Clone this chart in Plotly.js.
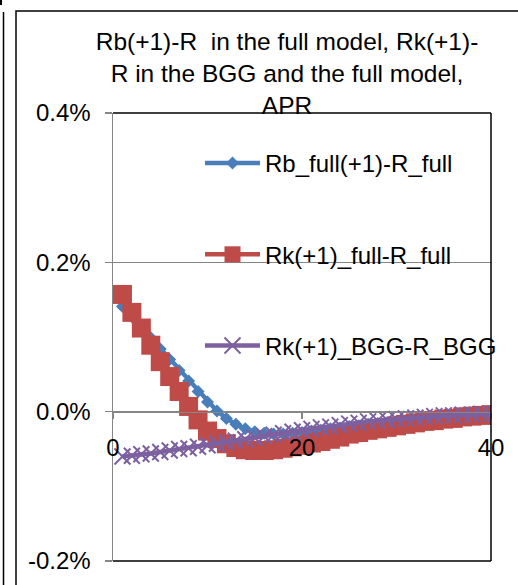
<!DOCTYPE html>
<html>
<head>
<meta charset="utf-8">
<script src="https://cdn.plot.ly/plotly-3.0.1.min.js"></script>
<style>html,body{margin:0;padding:0;background:#fff;}#chart{width:518px;height:585px;}</style>
</head>
<body>
<div id="chart"></div>
<script>
// Horizon (quarters)
var periods = [1,2,3,4,5,6,7,8,9,10,11,12,13,14,15,16,17,18,19,20,21,22,23,24,25,26,27,28,29,30,31,32,33,34,35,36,37,38,39,40];

// Values in percent
var rbFull = [0.141,0.127,0.113,0.099,0.084,0.070,0.055,0.041,0.027,0.013,
              0.001,-0.009,-0.017,-0.023,-0.027,-0.029,-0.030,-0.030,-0.029,-0.028,
              -0.026,-0.025,-0.023,-0.022,-0.020,-0.019,-0.017,-0.016,-0.015,-0.013,
              -0.012,-0.011,-0.010,-0.009,-0.008,-0.007,-0.006,-0.005,-0.005,-0.004];

var rkFull = [0.157,0.133,0.112,0.089,0.067,0.047,0.027,0.007,-0.011,-0.026,
              -0.036,-0.043,-0.048,-0.051,-0.052,-0.052,-0.051,-0.049,-0.047,-0.045,
              -0.042,-0.040,-0.037,-0.034,-0.030,-0.028,-0.025,-0.023,-0.021,-0.019,
              -0.017,-0.015,-0.013,-0.012,-0.010,-0.009,-0.007,-0.006,-0.005,-0.004];

var rkBGG = [-0.060,-0.059,-0.057,-0.056,-0.054,-0.052,-0.050,-0.049,-0.047,-0.045,
             -0.043,-0.041,-0.039,-0.037,-0.035,-0.033,-0.031,-0.029,-0.027,-0.025,
             -0.023,-0.021,-0.020,-0.018,-0.016,-0.015,-0.013,-0.012,-0.011,-0.010,
             -0.009,-0.008,-0.007,-0.006,-0.005,-0.005,-0.004,-0.004,-0.003,-0.003];

var seriesNames = ['Rb_full(+1)-R_full', 'Rk(+1)_full-R_full', 'Rk(+1)_BGG-R_BGG'];
var titleLines = ['Rb(+1)-R\u00a0 in the full model, Rk(+1)-', 'R in the BGG and the full model,', 'APR'];

var xTickVals = [0, 20, 40];
var xTickText = ['0', '20', '40'];
var yTickVals = [-0.2, 0, 0.2, 0.4];
var yTickText = ['-0.2%', '0.0%', '0.2%', '0.4%'];

var FONT = '"Liberation Sans", Arial, sans-serif';

var traces = [
  {x: periods, y: rbFull, name: seriesNames[0], type: 'scatter', mode: 'lines+markers',
   legendgroup: 'a',
   line: {color: '#4A7EBB', width: 4.5},
   marker: {symbol: 'diamond', size: 10, color: '#4A7EBB'}},
  {x: periods, y: rkFull, name: seriesNames[1], type: 'scatter', mode: 'lines+markers',
   legendgroup: 'b',
   line: {color: '#BE4B48', width: 4.5},
   marker: {symbol: 'square', size: 19, color: '#BE4B48'}},
  {x: periods, y: rkBGG, name: seriesNames[2], type: 'scatter', mode: 'lines+markers',
   legendgroup: 'c',
   line: {color: '#7D60A0', width: 4.5},
   marker: {symbol: 'x-thin', size: 16, color: '#7D60A0', line: {color: '#7D60A0', width: 2}}}
];

function px2x(p) { return (p - 113) / 378; }
function py2y(p) { return (561 - p) / 448; }

var layout = {
  width: 518, height: 585,
  margin: {l: 113, r: 27, t: 113, b: 24},
  paper_bgcolor: '#fff', plot_bgcolor: '#fff',
  font: {family: FONT, size: 24, color: '#000'},
  title: {
    text: titleLines.join('<br>'),
    font: {family: FONT, size: 24.5, color: '#000'},
    xref: 'container', x: 287 / 518, xanchor: 'center',
    yref: 'container', y: 1 - 50 / 585, yanchor: 'top'
  },
  showlegend: true,
  legend: {
    x: px2x(200), y: py2y(141), xanchor: 'left', yanchor: 'top',
    bgcolor: 'rgba(0,0,0,0)', borderwidth: 0,
    font: {family: FONT, size: 24, color: '#000'},
    tracegroupgap: 57, itemwidth: 55
  },
  xaxis: {
    range: [0, 40], tickvals: xTickVals, ticktext: xTickText,
    anchor: 'free', position: 1 / 3,
    showline: true, linecolor: '#868686', linewidth: 1.5,
    ticks: 'outside', ticklen: 6, tickcolor: '#868686', tickwidth: 1.5,
    ticklabelstandoff: 8,
    showgrid: false, zeroline: false,
    tickfont: {family: FONT, size: 24, color: '#000'}
  },
  yaxis: {
    range: [-0.2, 0.4], tickvals: yTickVals, ticktext: yTickText,
    showline: true, linecolor: '#868686', linewidth: 1.5,
    ticks: 'outside', ticklen: 7, tickcolor: '#868686', tickwidth: 1.5,
    ticklabelstandoff: 9,
    showgrid: true, gridcolor: '#868686', gridwidth: 1.2, zeroline: false,
    tickfont: {family: FONT, size: 24, color: '#000'}
  },
  shapes: [
    // plot area border (top, right, bottom)
    {type: 'line', xref: 'paper', yref: 'paper', x0: 0, x1: 1, y0: 1, y1: 1, line: {color: '#000', width: 1.5}},
    {type: 'line', xref: 'paper', yref: 'paper', x0: 1, x1: 1, y0: 0, y1: 1, line: {color: '#000', width: 1.5}},
    {type: 'line', xref: 'paper', yref: 'paper', x0: 0, x1: 1, y0: 0, y1: 0, line: {color: '#000', width: 1.5}},
    // chart area frame
    {type: 'rect', xref: 'paper', yref: 'paper', x0: px2x(16), x1: px2x(540), y0: py2y(600), y1: py2y(11), line: {color: '#000', width: 1.5}},
    // neighbouring frame edge at far left
    {type: 'line', xref: 'paper', yref: 'paper', x0: px2x(3.5), x1: px2x(3.5), y0: py2y(600), y1: py2y(12), line: {color: '#000', width: 1.5}},
    {type: 'rect', xref: 'paper', yref: 'paper', x0: px2x(0), x1: px2x(2), y0: py2y(5), y1: py2y(0), fillcolor: '#000', line: {width: 0}}
  ]
};

Plotly.newPlot('chart', traces, layout, {displayModeBar: false, staticPlot: true});
</script>
</body>
</html>
